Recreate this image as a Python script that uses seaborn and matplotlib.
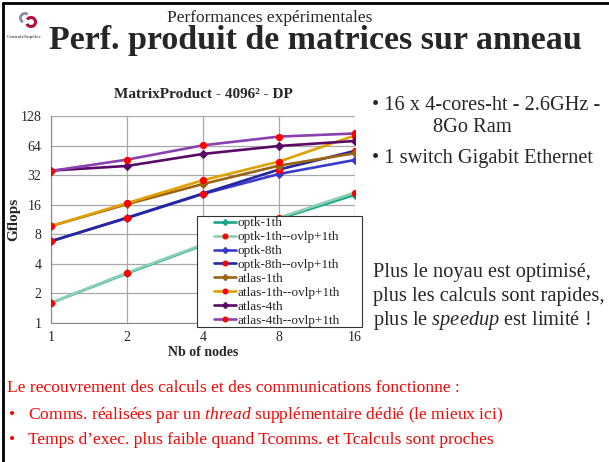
import matplotlib
matplotlib.use("Agg")
import matplotlib.pyplot as plt
from matplotlib.lines import Line2D
from matplotlib.patches import Arc, Rectangle
import seaborn as sns
import pandas as pd

nodes = [1, 2, 4, 8, 16]
optk_1th = [1.6, 3.2, 6.2, 11.5, 20.2]
optk_1th_ovlp = [1.6, 3.25, 6.3, 11.8, 21.3]
optk_8th = [6.8, 11.7, 20.6, 32.9, 45.7]
optk_8th_ovlp = [6.8, 11.8, 20.8, 36.5, 56.5]
atlas_1th = [9.7, 16.2, 26.0, 40.0, 53.5]
atlas_1th_ovlp = [9.7, 16.6, 28.4, 44.0, 81.0]
atlas_4th = [35.6, 39.7, 52.6, 63.4, 71.3]
atlas_4th_ovlp = [35.3, 46.0, 64.4, 79.0, 85.0]

labels = ["optk-1th", "optk-1th--ovlp+1th", "optk-8th", "optk-8th--ovlp+1th",
          "atlas-1th", "atlas-1th--ovlp+1th", "atlas-4th", "atlas-4th--ovlp+1th"]
series = [optk_1th, optk_1th_ovlp, optk_8th, optk_8th_ovlp,
          atlas_1th, atlas_1th_ovlp, atlas_4th, atlas_4th_ovlp]
colors = ["#1aa889", "#8ccfb2", "#3a3acc", "#26269e",
          "#9a6410", "#e0a000", "#5a0a66", "#8a40b0"]
yticks = [1, 2, 4, 8, 16, 32, 64, 128]

sns.set_style("white")
plt.rcParams["font.family"] = ["Liberation Serif", "DejaVu Serif"]
plt.rcParams["mathtext.fontset"] = "custom"
plt.rcParams["mathtext.rm"] = "Liberation Serif"
plt.rcParams["mathtext.it"] = "Liberation Serif:italic"

fig = plt.figure(figsize=(6.09, 4.62), dpi=100)
ax = fig.add_axes([51 / 609, 1 - 323 / 462, 304 / 609, 207 / 462])

df = pd.DataFrame({
    "nodes": nodes * len(series),
    "gflops": [v for s in series for v in s],
    "serie": [l for l in labels for _ in nodes],
})

for lab, col in zip(labels, colors):
    sub = df[df.serie == lab]
    ovlp = "ovlp" in lab
    sns.lineplot(data=sub, x="nodes", y="gflops", ax=ax, color=col, lw=1.9,
                 marker="o" if ovlp else "D",
                 markersize=4.5 if ovlp else 4,
                 markerfacecolor="red" if ovlp else col,
                 markeredgecolor="red" if ovlp else col,
                 label=lab, zorder=3)

ax.set_xscale("log", base=2)
ax.set_yscale("log", base=2)
ax.set_xlim(1, 16)
ax.set_ylim(1, 128)
ax.set_xticks(nodes)
ax.set_xticklabels([str(n) for n in nodes])
ax.set_yticks(yticks)
ax.set_yticklabels([str(t) for t in yticks])
ax.minorticks_off()
ax.tick_params(labelsize=10, length=0)
ax.tick_params(axis="x", pad=6)
ax.tick_params(axis="y", pad=7)
ax.grid(True, color="#a8a8a8", lw=0.9)
for s in ["top", "right"]:
    ax.spines[s].set_visible(False)
for s in ["left", "bottom"]:
    ax.spines[s].set_color("#888888")
ax.set_xlabel("Nb of nodes", fontsize=10, fontweight="bold", labelpad=1)
ax.set_ylabel("Gflops", fontsize=11, fontweight="bold")
ax.yaxis.set_label_coords(-0.1, 0.5)
ax.set_title("MatrixProduct - 4096² - DP", fontsize=11, fontweight="bold", pad=13,
             family="Liberation Serif")

# legend box drawn separately so its padding matches the slide
handles, hlabels = ax.get_legend_handles_labels()
if ax.get_legend():
    ax.get_legend().remove()
fig.add_artist(Rectangle((197 / 609, 1 - 327 / 462), 165 / 609, 111 / 462,
                         facecolor="white", edgecolor="#333333", lw=0.8,
                         transform=fig.transFigure, zorder=2))
leg = fig.legend(handles, hlabels, loc="upper left",
                 bbox_to_anchor=(214 / 609, 1 - 217 / 462),
                 fontsize=9.5, frameon=False, markerscale=0.8,
                 handlelength=1.7, handletextpad=0.1, labelspacing=0.13,
                 borderpad=0, borderaxespad=0)
leg.set_zorder(3)

# slide border
fig.add_artist(Line2D([3 / 609, 3 / 609], [0, 1 - 3 / 462], color="black", lw=2,
                      transform=fig.transFigure))
fig.add_artist(Line2D([3 / 609, 1], [1 - 3 / 462, 1 - 3 / 462], color="black", lw=2,
                      transform=fig.transFigure))

# logo
fig.add_artist(Arc((25 / 609, 1 - 18 / 462), 9 / 609, 9 / 462, theta1=60, theta2=250,
                   color="#8c8ca0", lw=2, transform=fig.transFigure))
fig.add_artist(Arc((31 / 609, 1 - 22 / 462), 9 / 609, 9 / 462, theta1=-150, theta2=140,
                   color="#b0103a", lw=2.2, transform=fig.transFigure))
fig.text(24 / 609, 1 - 37 / 462, "CentraleSupélec", fontsize=3.9, ha="center", va="center")

fig.text(270 / 609, 1 - 18 / 462, "Performances expérimentales", fontsize=12.5,
         ha="center", va="center")
fig.text(315 / 609, 1 - 40 / 462, "Perf. produit de matrices sur anneau", fontsize=24.5,
         fontweight="bold", ha="center", va="center")

fs = 14.7
fig.text(372 / 609, 1 - 106 / 462, "• 16 x 4-cores-ht - 2.6GHz -", fontsize=fs, va="center")
fig.text(433 / 609, 1 - 128 / 462, "8Go Ram", fontsize=fs, va="center")
fig.text(372 / 609, 1 - 158 / 462, "• 1 switch Gigabit Ethernet", fontsize=fs, va="center")

fig.text(373 / 609, 1 - 272 / 462, "Plus le noyau est optimisé,", fontsize=fs, va="center")
fig.text(373 / 609, 1 - 297 / 462, "plus les calculs sont rapides,", fontsize=fs, va="center")
fig.text(373 / 609, 1 - 321 / 462, "plus le $\\it{speedup}$ est limité !", fontsize=fs,
         va="center")

red = "#ff0000"
rfs = 12.6
fig.text(7 / 609, 1 - 388 / 462, "Le recouvrement des calculs et des communications fonctionne :",
         fontsize=rfs, color=red, va="center")
fig.text(9 / 609, 1 - 415 / 462, "•", fontsize=rfs, color=red, va="center")
fig.text(28 / 609, 1 - 415 / 462,
         "Comms. réalisées par un $\\it{thread}$ supplémentaire dédié (le mieux ici)",
         fontsize=rfs, color=red, va="center")
fig.text(9 / 609, 1 - 440 / 462, "•", fontsize=rfs, color=red, va="center")
fig.text(28 / 609, 1 - 440 / 462,
         "Temps d’exec. plus faible quand Tcomms. et Tcalculs sont proches",
         fontsize=rfs, color=red, va="center")

fig.savefig("out.png", dpi=100)
